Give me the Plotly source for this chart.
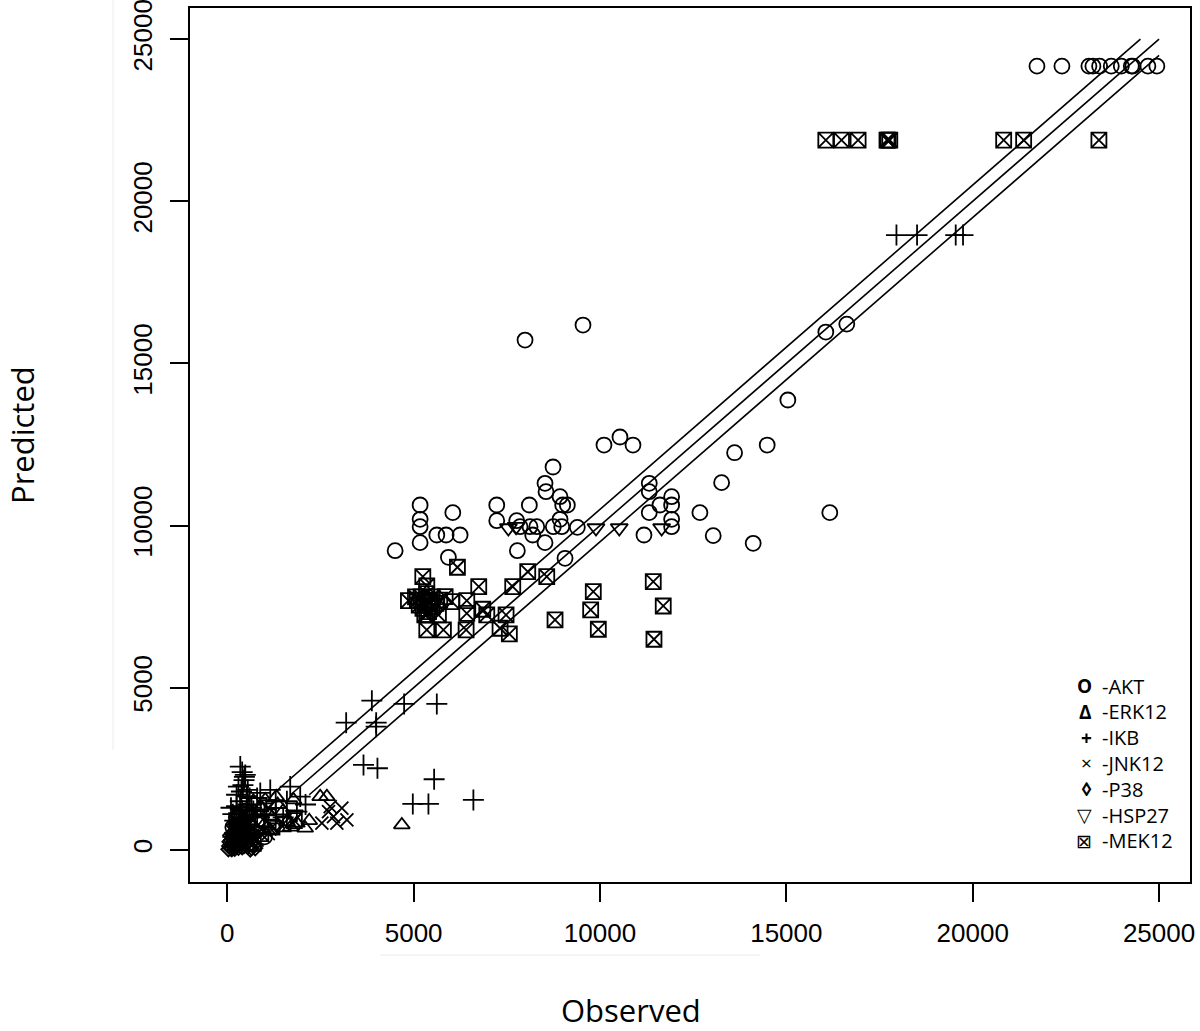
import plotly.graph_objects as go

# ---------------- data ----------------
AKT_X = [21724, 22394, 23118, 23225, 23405, 23718, 23987, 24255, 24298, 24700, 24941,
         16059, 16622, 15040, 14486, 13611, 13263, 12681, 16166, 13038, 14110,
         9544, 7989, 10107, 10536, 10885, 8740,
         4504, 5174, 5174, 5174, 5174, 6051, 5622, 5871, 6247, 5933,
         7230, 7230, 7766, 7783, 8105, 7855, 8123, 8303, 8195, 8525,
         8525, 8552, 8928, 9000, 9124, 8928, 8748, 8973, 9392, 9062,
         11322, 11322, 11922, 11922, 11322, 11922, 11922, 11609, 11180,
         200, 400, 600, 800, 1000, 300, 150, 500]
AKT_Y = [24167, 24167, 24167, 24167, 24167, 24167, 24167, 24167, 24167, 24167, 24167,
         15968, 16214, 13872, 12484, 12247, 11323, 10398, 10398, 9689, 9454,
         16184, 15721, 12484, 12731, 12484, 11806,
         9226, 10635, 10194, 9966, 9473, 10398, 9710, 9710, 9710, 9022,
         10635, 10151, 10151, 9226, 10635, 9966, 9966, 9966, 9710, 9473,
         11304, 11045, 10891, 10635, 10635, 10194, 9966, 9966, 9946, 8992,
         11304, 11045, 10891, 10635, 10398, 10194, 9966, 10635, 9710,
         300, 500, 200, 800, 400, 1000, 700, 1200]

ERK_X = [4683, 2493, 2672, 1314, 1777, 2091, 1868, 1153, 1600, 1019, 700, 900, 1200, 1500,
         600, 400, 800, 300, 500, 1000, 1350, 2200, 1700, 250, 150, 450, 650, 350, 550]
ERK_Y = [771, 1643, 1643, 1643, 1541, 669, 823, 617, 873, 1541, 1500, 1300, 1000, 1200,
         900, 700, 600, 400, 300, 800, 1400, 900, 700, 1100, 500, 1000, 1100, 900, 500]

IKB_X = [17954, 18507, 19544, 19740,
         3879, 3190, 3995, 3995, 4745, 5622, 3655, 4029, 5550, 4978, 5397, 6603,
         349, 483, 400, 450, 300, 550, 250, 600, 350, 1689, 1957, 1153, 885, 1868,
         100, 150, 200, 650, 750, 500, 1300, 1050, 800, 400, 300, 450, 600, 150,
         1500, 1000, 2100, 1600, 250, 550, 350, 700, 420, 380, 520, 460]
IKB_Y = [18958, 18958, 18958, 18958,
         4602, 3924, 3924, 3801, 4501, 4501, 2620, 2518, 2179, 1418, 1418, 1541,
         2568, 2312, 2400, 2150, 1950, 1850, 1700, 1600, 1500, 1951, 1643, 1850, 1757, 1181,
         1300, 1100, 900, 1300, 1050, 1000, 1500, 1250, 1600, 1200, 800, 650, 500, 400,
         1000, 1100, 1400, 1500, 1350, 1400, 1250, 1200, 2000, 1800, 1650, 2250]

JNK_X = [2538, 2850, 3075, 2940, 3209, 2716, 2761,
         300, 500, 700, 200, 900, 400, 1100, 600, 150, 350, 250, 100, 450, 550, 800]
JNK_Y = [823, 1027, 1285, 823, 925, 1181, 1335,
         300, 500, 400, 600, 700, 200, 500, 800, 150, 100, 450, 350, 650, 250, 300]

P38_X = [751, 617, 100, 200, 300, 400, 150, 250, 350, 50, 500, 450, 200, 300, 550, 650,
         100, 400, 250, 700, 120, 180, 60, 80, 220, 320, 420, 520, 270, 370, 170, 470,
         30, 130, 230, 330, 600]
P38_Y = [52, 10, 50, 100, 150, 80, 200, 250, 300, 120, 200, 120, 30, 60, 100, 60,
         300, 400, 500, 150, 20, 350, 250, 450, 600, 700, 550, 350, 800, 900, 750, 650,
         20, 500, 400, 500, 300]

HSP_X = [7542, 7748, 9893, 10517, 11654, 500, 900, 1300, 1800, 200, 350, 650]
HSP_Y = [9926, 9966, 9926, 9926, 9926, 600, 900, 700, 1100, 200, 800, 400]

MEK_X = [16059, 16480, 16925, 17700, 17729, 17775, 20831, 21367, 23386,
         6175, 5246, 5353, 6747, 7659, 8061, 8571, 4861, 5845, 6023, 6426,
         5353, 5665, 6426, 6855, 6962, 7480, 5353, 5799, 6408, 7319, 7568,
         8794, 9820, 9750, 9955, 11429, 11697, 11448,
         5100, 5200, 5300, 5400, 5500, 5250, 5400, 5600, 5150, 5350, 5450, 5300, 5500, 5700, 5050,
         1200, 1500, 900, 600, 1800, 300, 700, 1100, 400, 250]
MEK_Y = [21886, 21886, 21886, 21886, 21886, 21886, 21886, 21886, 21886,
         8715, 8427, 8138, 8117, 8117, 8579, 8427, 7686, 7810, 7655, 7686,
         7244, 7244, 7295, 7420, 7244, 7244, 6782, 6782, 6782, 6834, 6658,
         7090, 7963, 7398, 6803, 8271, 7521, 6495,
         7700, 7800, 7600, 7700, 7500, 7450, 7350, 7600, 7550, 7900, 7650, 7250, 7800, 7700, 7800,
         700, 800, 500, 1000, 900, 600, 200, 1300, 1100, 900]

# reference lines: y = x + offset
LINE_OFFSETS = [500, 0, -500]
LINE_START_Y = 1700
LINE_END = 25000

LEGEND_SYMBOLS = ["<b>O</b>", "<b>Δ</b>", "<b>+</b>", "×", "<b>◊</b>", "▽", "⊠"]
LEGEND_LABELS = ["-AKT", "-ERK12", "-IKB", "-JNK12", "-P38", "-HSP27", "-MEK12"]

X_TICKS = [0, 5000, 10000, 15000, 20000, 25000]
Y_TICKS = [0, 5000, 10000, 15000, 20000, 25000]

# ---------------- figure ----------------
fig = go.Figure()

for off in LINE_OFFSETS:
    y0 = LINE_START_Y
    x0 = y0 - off
    if off >= 0:
        y1 = LINE_END
        x1 = LINE_END - off
    else:
        x1 = LINE_END
        y1 = LINE_END + off
    fig.add_trace(go.Scatter(x=[x0, x1], y=[y0, y1], mode="lines",
                             line=dict(color="black", width=1.6),
                             showlegend=False, hoverinfo="skip"))

def pts(x, y, symbol, size):
    fig.add_trace(go.Scatter(x=x, y=y, mode="markers", showlegend=False,
                             marker=dict(symbol=symbol, size=size, color="black",
                                         line=dict(color="black", width=1.8))))

pts(AKT_X, AKT_Y, "circle-open", 15)
pts(ERK_X, ERK_Y, "triangle-up-open", 14)
pts(IKB_X, IKB_Y, "cross-thin-open", 15)
pts(JNK_X, JNK_Y, "x-thin-open", 13)
pts(P38_X, P38_Y, "diamond-open", 11)
pts(HSP_X, HSP_Y, "triangle-down-open", 15)
pts(MEK_X, MEK_Y, "square-x-open", 15)

tickfont = dict(family="Liberation Sans, Arial, sans-serif", size=26, color="black")
fig.update_xaxes(range=[-1000, 25830], tickvals=X_TICKS, ticktext=[str(v) for v in X_TICKS],
                 showgrid=False, zeroline=False, showline=True, mirror=True,
                 linecolor="black", linewidth=2, ticks="outside", ticklen=18,
                 tickwidth=1.5, tickcolor="black", tickfont=tickfont, automargin=False,
                 ticklabelstandoff=9, ticklabeloverflow="allow")
fig.update_yaxes(range=[-990, 25960], tickvals=Y_TICKS, ticktext=[str(v) for v in Y_TICKS],
                 showgrid=False, zeroline=False, showline=True, mirror=True,
                 linecolor="black", linewidth=2, ticks="outside", ticklen=18,
                 tickwidth=1.5, tickcolor="black", tickfont=tickfont, tickangle=-90,
                 automargin=False, ticklabelstandoff=8, ticklabeloverflow="allow")

# plot area in page pixels: x 190..1190, y 8..882
PX_L, PX_T, PW, PH = 190, 8, 1000, 874
FIG_W, FIG_H = 1200, 1031

def px(xs):
    return (xs - PX_L) / PW

def py(ys):
    return (PX_T + PH - ys) / PH

ann = []
for i, (s, l) in enumerate(zip(LEGEND_SYMBOLS, LEGEND_LABELS)):
    yy = py(686 + i * 25.8)
    ann.append(dict(x=px(1094), y=yy, xref="paper", yref="paper", text=s,
                    showarrow=False, xanchor="right", yanchor="middle",
                    font=dict(family="Open Sans, sans-serif", size=19, color="black")))
    ann.append(dict(x=px(1100), y=yy, xref="paper", yref="paper", text=l,
                    showarrow=False, xanchor="left", yanchor="middle",
                    font=dict(family="Open Sans, sans-serif", size=20, color="black")))
ann.append(dict(x=px(631), y=py(1010), xref="paper", yref="paper",
                text="Observed", showarrow=False, xanchor="center", yanchor="middle",
                font=dict(family="Open Sans, sans-serif", size=31, color="black")))
ann.append(dict(x=px(22), y=py(435), xref="paper", yref="paper",
                text="Predicted", showarrow=False, xanchor="center", yanchor="middle",
                textangle=-90,
                font=dict(family="Open Sans, sans-serif", size=31, color="black")))

shapes = [
    dict(type="line", xref="paper", yref="paper", x0=px(113), x1=px(113),
         y0=py(0), y1=py(750), line=dict(color="#ececec", width=1)),
    dict(type="line", xref="paper", yref="paper", x0=px(380), x1=px(760),
         y0=py(955), y1=py(955), line=dict(color="#ececec", width=1)),
]

fig.update_layout(width=FIG_W, height=FIG_H,
                  margin=dict(l=PX_L, r=FIG_W - PX_L - PW, t=PX_T, b=FIG_H - PX_T - PH),
                  plot_bgcolor="white", paper_bgcolor="white",
                  annotations=ann, shapes=shapes, showlegend=False)

fig.write_html("out.html", config={"displayModeBar": False},
               post_script="document.body.style.margin='0';document.body.style.overflow='hidden';")
